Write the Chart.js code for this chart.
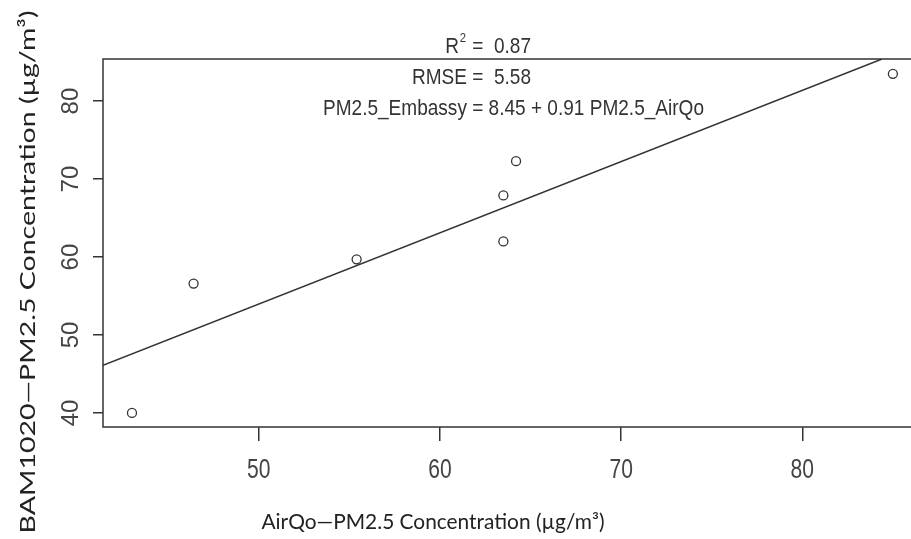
<!DOCTYPE html>
<html>
<head>
<meta charset="utf-8">
<script src="https://cdn.jsdelivr.net/npm/chart.js@4.4.1/dist/chart.umd.min.js"></script>
<style>
  html, body { margin: 0; padding: 0; background: #fff; }
  canvas { display: block; }
</style>
</head>
<body>
<canvas id="chart" width="911" height="539"></canvas>
<script>
// --- data ---
const airqo = [43.0, 46.4, 55.4, 63.5, 63.5, 64.2, 85.0];
const bam   = [40.0, 56.6, 59.7, 67.9, 62.0, 72.3, 83.5];
const fitX  = [41.4, 84.4];
const fitY  = [46.1, 85.4];
const xTicks = [50, 60, 70, 80];
const yTicks = [40, 50, 60, 70, 80];
const r2Text = '=  0.87';
const rmseText = 'RMSE =  5.58';
const eqText = 'PM2.5_Embassy = 8.45 + 0.91 PM2.5_AirQo';
const xTitle = 'AirQo\u2014PM2.5 Concentration (\u00B5g/m\u00B3)';
const yTitle = 'BAM1020\u2014PM2.5 Concentration (\u00B5g/m\u00B3)';

const INK = '#333';
const ARIAL = '"Liberation Sans", Arial, sans-serif';
const CALI = 'Lato, "Open Sans", sans-serif';

const points = airqo.map((x, i) => ({ x: x, y: bam[i] }));
const fit = fitX.map((x, i) => ({ x: x, y: fitY[i] }));

// the original uses a condensed face, so squeeze Liberation Sans sideways
function squeezed(ctx, text, x, y, sx, align) {
  ctx.save();
  ctx.translate(x, y);
  ctx.scale(sx, 1);
  ctx.textAlign = align;
  ctx.fillText(text, 0, 0);
  ctx.restore();
}

// scale font size so the text spans the given length
function fitFont(ctx, text, family, target) {
  ctx.font = '20px ' + family;
  const w = ctx.measureText(text).width;
  return (20 * target / w).toFixed(2) + 'px ' + family;
}

const decor = {
  id: 'decor',
  afterDraw(chart) {
    const ctx = chart.ctx;
    const a = chart.chartArea;
    const xs = chart.scales.x;
    const ys = chart.scales.y;
    ctx.save();

    // box (right side runs off the picture)
    ctx.strokeStyle = INK;
    ctx.lineWidth = 1.5;
    ctx.beginPath();
    ctx.moveTo(a.right + 2, a.top);
    ctx.lineTo(a.left, a.top);
    ctx.lineTo(a.left, a.bottom);
    ctx.lineTo(a.right + 2, a.bottom);
    ctx.stroke();

    // tick labels
    ctx.fillStyle = '#444';
    ctx.textBaseline = 'middle';
    ctx.font = '24px ' + ARIAL;
    yTicks.forEach(v => {
      ctx.save();
      ctx.translate(71, ys.getPixelForValue(v));
      ctx.rotate(-Math.PI / 2);
      ctx.textAlign = 'center';
      ctx.fillText(String(v), 0, 0);
      ctx.restore();
    });
    ctx.font = '27px ' + ARIAL;
    xTicks.forEach(v => squeezed(ctx, String(v), xs.getPixelForValue(v), 471, 0.78, 'center'));

    // stats text
    ctx.fillStyle = '#333';
    ctx.font = '22px ' + ARIAL;
    const sx = 381 / ctx.measureText(eqText).width;
    squeezed(ctx, eqText, 323, 109, sx, 'left');
    squeezed(ctx, rmseText, 531, 78, sx, 'right');
    squeezed(ctx, r2Text, 531, 47, sx, 'right');
    const r2w = ctx.measureText(r2Text + ' ').width * sx;
    ctx.font = '13px ' + ARIAL;
    squeezed(ctx, '2', 531 - r2w - 4, 38, sx, 'center');
    ctx.font = '22px ' + ARIAL;
    squeezed(ctx, 'R', 531 - r2w - 8, 47, sx, 'right');

    // axis titles
    ctx.fillStyle = '#222';
    ctx.textAlign = 'center';
    ctx.font = fitFont(ctx, xTitle, CALI, 343);
    ctx.fillText(xTitle, 433, 522);

    // y title: stretched along its length like the original
    ctx.save();
    ctx.translate(35, 272);
    ctx.rotate(-Math.PI / 2);
    ctx.font = '22px ' + CALI;
    ctx.textBaseline = 'alphabetic';
    const sy = 523 / ctx.measureText(yTitle).width;
    ctx.scale(sy, 1);
    ctx.fillText(yTitle, 0, 0);
    ctx.restore();

    ctx.restore();
  }
};

new Chart(document.getElementById('chart'), {
  type: 'scatter',
  data: {
    datasets: [
      {
        data: points,
        pointStyle: 'circle',
        pointRadius: 4.5,
        borderColor: INK,
        borderWidth: 1.3,
        backgroundColor: 'rgba(0,0,0,0)'
      },
      {
        type: 'line',
        data: fit,
        borderColor: INK,
        borderWidth: 1.5,
        pointRadius: 0,
        fill: false
      }
    ]
  },
  options: {
    responsive: false,
    animation: false,
    layout: { autoPadding: false, padding: { top: 59, right: 0, left: 0, bottom: 0 } },
    plugins: { legend: { display: false }, tooltip: { enabled: false } },
    scales: {
      x: {
        type: 'linear',
        min: 41.4,
        max: 86.0,
        afterBuildTicks: s => { s.ticks = xTicks.map(v => ({ value: v })); },
        afterFit: s => { s.height = 112; },
        grid: { drawOnChartArea: false, tickLength: 14, color: INK, lineWidth: 1.5 },
        border: { display: false },
        ticks: { display: false }
      },
      y: {
        type: 'linear',
        min: 38.2,
        max: 85.4,
        afterBuildTicks: s => { s.ticks = yTicks.map(v => ({ value: v })); },
        afterFit: s => { s.width = 103; },
        grid: { drawOnChartArea: false, tickLength: 10, color: INK, lineWidth: 1.5 },
        border: { display: false },
        ticks: { display: false }
      }
    }
  },
  plugins: [decor]
});
</script>
</body>
</html>
